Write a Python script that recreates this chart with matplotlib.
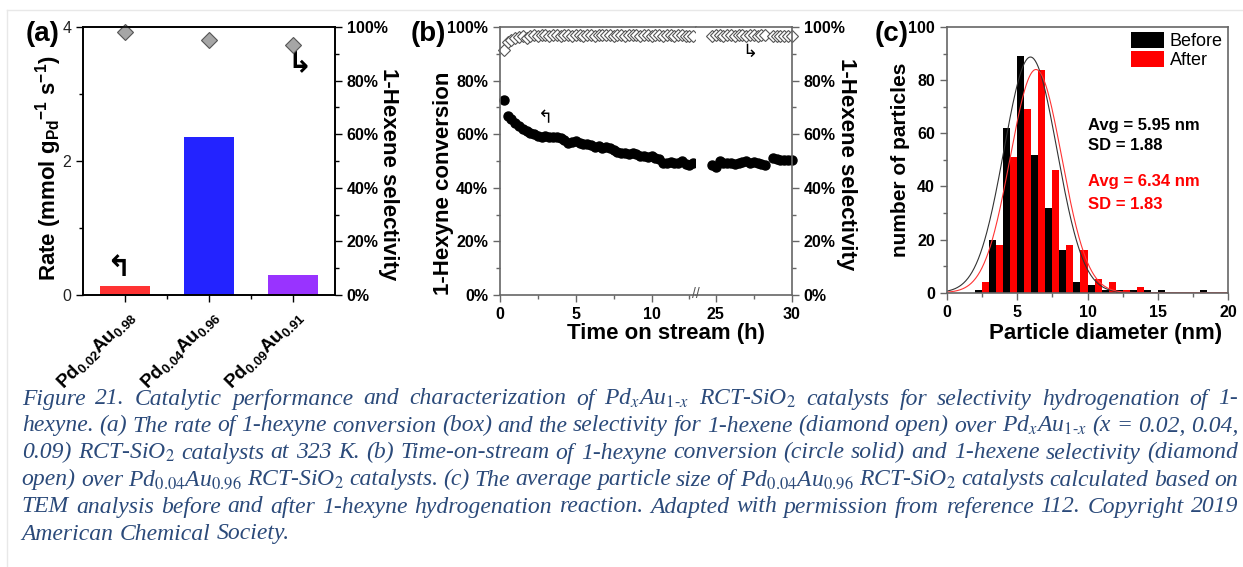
import matplotlib
matplotlib.use('Agg')
import matplotlib.pyplot as plt
import numpy as np
from matplotlib.ticker import MultipleLocator, FixedLocator, PercentFormatter
from matplotlib.lines import Line2D

plt.rcParams['font.family'] = ['Liberation Sans', 'DejaVu Sans']
plt.rcParams['mathtext.fontset'] = 'custom'
plt.rcParams['mathtext.rm'] = 'Liberation Sans'
plt.rcParams['mathtext.it'] = 'Liberation Sans:italic'
plt.rcParams['mathtext.bf'] = 'Liberation Sans:bold'

# ---- (a) rate and selectivity per catalyst
catalysts = [r'Pd$_{\mathregular{0.02}}$Au$_{\mathregular{0.98}}$',
             r'Pd$_{\mathregular{0.04}}$Au$_{\mathregular{0.96}}$',
             r'Pd$_{\mathregular{0.09}}$Au$_{\mathregular{0.91}}$']
rate = [0.13, 2.36, 0.30]
rate_colors = ['#FF3333', '#2323FF', '#9933FF']
sel_a = [98.0, 95.0, 93.4]

# ---- (b) time on stream, three blocks of samples
t1 = np.arange(0.25, 12.76, 0.25)
conv1 = [72.7, 66.7, 65.8, 64.0, 63.0, 62.1, 61.1, 60.5, 59.9, 59.4,
         58.8, 59.3, 59.0, 58.8, 58.8, 58.6, 57.8, 56.8, 57.1, 57.5,
         56.8, 56.5, 56.3, 55.9, 55.3, 55.5, 55.0, 55.3, 54.7, 54.0,
         53.4, 53.0, 52.8, 52.5, 53.0, 52.5, 52.0, 51.8, 51.6, 51.8,
         51.3, 50.6, 49.3, 49.1, 49.6, 49.3, 49.1, 50.1, 48.8, 48.4, 49.2]
sel1 = [91.5, 94.3, 95.3, 95.9, 96.3, 96.6, 95.8, 96.7, 96.9, 96.8,
        96.9, 96.9, 96.8, 96.9, 96.9, 96.8, 96.9, 96.9, 96.8, 96.9,
        96.9, 96.8, 96.9, 96.9, 96.8, 96.9, 96.9, 97.0, 96.9, 96.8,
        96.9, 96.9, 96.8, 96.9, 97.0, 96.9, 96.8, 96.9, 96.9, 96.8,
        96.9, 96.9, 96.8, 96.9, 96.9, 96.8, 96.9, 96.9, 96.8, 96.7, 96.5]
t2 = np.arange(24.75, 28.26, 0.25)
conv2 = [48.4, 47.9, 50.1, 49.1, 49.1, 49.3, 49.0, 49.3, 49.6, 49.9,
         49.3, 49.6, 49.3, 48.8, 48.5]
sel2 = [96.8, 96.9, 96.9, 96.8, 96.9, 96.9, 96.8, 96.9, 96.9, 96.8,
        96.9, 96.9, 96.8, 96.9, 96.9]
t3 = np.arange(28.75, 30.01, 0.25)
conv3 = [51.0, 50.7, 50.3, 50.5, 50.5, 50.4]
sel3 = [96.7, 96.6, 96.7, 96.6, 96.7, 96.6]

# ---- (c) particle size histograms
bin_left = np.arange(2, 19)
before_counts = [1, 20, 62, 89, 52, 32, 16, 4, 3, 1, 1, 1, 1, 1, 0, 0, 1]
after_counts = [4, 18, 51, 69, 84, 46, 18, 16, 5, 4, 1, 2, 0, 0, 0, 0, 0]
fit_before = (5.95, 1.88, 88.7)   # mean, sd, peak
fit_after = (6.34, 1.83, 84.0)

caption_lines = [
    r"Figure 21. Catalytic performance and characterization of Pd$_{\mathit{x}}$Au$_{\mathit{1}\text{-}\mathit{x}}$ RCT-SiO$_{\mathrm{2}}$ catalysts for selectivity hydrogenation of 1-",
    r"hexyne. (a) The rate of 1-hexyne conversion (box) and the selectivity for 1-hexene (diamond open) over Pd$_{\mathit{x}}$Au$_{\mathit{1}\text{-}\mathit{x}}$ (x = 0.02, 0.04,",
    r"0.09) RCT-SiO$_{\mathrm{2}}$ catalysts at 323 K. (b) Time-on-stream of 1-hexyne conversion (circle solid) and 1-hexene selectivity (diamond",
    r"open) over Pd$_{\mathit{0.04}}$Au$_{\mathit{0.96}}$ RCT-SiO$_{\mathrm{2}}$ catalysts. (c) The average particle size of Pd$_{\mathit{0.04}}$Au$_{\mathit{0.96}}$ RCT-SiO$_{\mathrm{2}}$ catalysts calculated based on",
    r"TEM analysis before and after 1-hexyne hydrogenation reaction. Adapted with permission from reference 112. Copyright 2019",
    r"American Chemical Society.",
]

W, H = 1243, 567
fig = plt.figure(figsize=(W / 100, H / 100), dpi=100)


def box(l, t, r, b):
    return [l / W, 1 - b / H, (r - l) / W, (b - t) / H]


def ftext(x, y, s, **kw):
    return fig.text(x / W, 1 - y / H, s, **kw)


def style_ticks(ax, color):
    ax.tick_params(which='both', direction='out', color=color, width=1)
    ax.tick_params(which='major', length=5)
    ax.tick_params(which='minor', length=3)
    for sp in ax.spines.values():
        sp.set_color(color)
        sp.set_linewidth(1.2)


# ================= panel (a)
axa = fig.add_axes(box(83, 27, 335, 295))
xpos = np.arange(1, len(rate) + 1)
axa.bar(xpos, rate, width=0.6, color=rate_colors)
axa.set_xlim(0.5, 3.5)
axa.set_ylim(0, 4)
axa.set_yticks([0, 2, 4])
axa.yaxis.set_minor_locator(MultipleLocator(1))
axa.set_xticks(xpos)
axa.xaxis.set_minor_locator(FixedLocator([1.5, 2.5]))
axa.set_xticklabels(catalysts, fontsize=13.5, fontweight='bold')
for lab in axa.get_xticklabels():
    lab.set_rotation(45)
    lab.set_ha('right')
    lab.set_va('top')
    lab.set_rotation_mode('anchor')
for lab in axa.get_yticklabels():
    lab.set_fontsize(11.5)
    lab.set_color('#222222')
style_ticks(axa, 'black')

axa_r = axa.twinx()
axa_r.plot(xpos, sel_a, 'D', ms=8, mfc='#A6A6A6', mec='#555555', mew=0.8, clip_on=False)
axa_r.set_ylim(0, 100)
axa_r.yaxis.set_major_locator(MultipleLocator(20))
axa_r.yaxis.set_minor_locator(MultipleLocator(10))
axa_r.yaxis.set_major_formatter(PercentFormatter(decimals=0))
for lab in axa_r.get_yticklabels():
    lab.set_fontsize(11.5)
    lab.set_fontweight('bold')
style_ticks(axa_r, 'black')
axa.text(0.92, 0.40, '\u21b0', fontsize=21, fontweight='bold', family='DejaVu Sans',
         ha='center', va='center')
axa.text(3.08, 3.46, '\u21b3', fontsize=21, fontweight='bold', family='DejaVu Sans',
         ha='center', va='center')

ftext(49, 168, r'Rate (mmol g$_{\mathregular{Pd}}$$^{\mathregular{-1}}$ s$^{\mathregular{-1}}$)',
      rotation=90, ha='center', va='center', fontsize=16, fontweight='bold')
ftext(388, 174, '1-Hexene selectivity', rotation=270, ha='center', va='center',
      fontsize=16, fontweight='bold')
ftext(43, 34, '(a)', ha='center', va='center', fontsize=20, fontweight='bold')

# ================= panel (b), broken time axis
axb1 = fig.add_axes(box(500, 27, 696, 295))
axb2 = fig.add_axes(box(696, 27, 791.7, 295))
mk_sel = dict(ls='none', marker='D', ms=6.5, mfc='white', mec='#555555', mew=0.8, clip_on=False)
mk_conv = dict(ls='none', marker='o', ms=6.5, color='black', clip_on=False)
axb1.plot(t1, sel1, **mk_sel)
axb1.plot(t1, conv1, **mk_conv)
axb2.plot(t2, sel2, **mk_sel)
axb2.plot(t3, sel3, **mk_sel)
axb2.plot(t2, conv2, **mk_conv)
axb2.plot(t3, conv3, **mk_conv)
axb1.set_xlim(0, 12.93)
axb2.set_xlim(23.7, 30)
for ax in (axb1, axb2):
    ax.set_ylim(0, 100)
    ax.yaxis.set_major_locator(MultipleLocator(20))
    ax.yaxis.set_minor_locator(MultipleLocator(10))
    ax.yaxis.set_major_formatter(PercentFormatter(decimals=0))
    style_ticks(ax, '#666666')
    ax.tick_params(labelsize=11.5)
axb1.set_xticks([0, 5, 10])
axb1.xaxis.set_minor_locator(FixedLocator([2.5, 7.5, 12.5]))
axb2.set_xticks([25, 30])
axb2.xaxis.set_minor_locator(FixedLocator([27.5]))
axb1.spines['right'].set_visible(False)
axb2.spines['left'].set_visible(False)
axb2.yaxis.tick_right()
for ax in (axb1, axb2):
    for lab in ax.get_xticklabels() + ax.get_yticklabels():
        lab.set_fontweight('bold')
        lab.set_color('black')
ftext(696, 294, '//', ha='center', va='center', fontsize=10, color='#555555')
axb1.text(3.0, 66, '\u21b0', fontsize=13, family='DejaVu Sans', ha='center', va='center')
axb2.text(27.25, 90.6, '\u21b3', fontsize=13, family='DejaVu Sans', ha='center', va='center')

ftext(444, 183, '1-Hexyne conversion', rotation=90, ha='center', va='center',
      fontsize=16, fontweight='bold')
ftext(847, 164, '1-Hexene selectivity', rotation=270, ha='center', va='center',
      fontsize=16, fontweight='bold')
ftext(666, 333, 'Time on stream (h)', ha='center', va='center', fontsize=16, fontweight='bold')
ftext(428, 34, '(b)', ha='center', va='center', fontsize=20, fontweight='bold')

# ================= panel (c)
axc = fig.add_axes(box(946.7, 27, 1228.3, 292.7))
axc.bar(bin_left, before_counts, width=0.5, align='edge', color='black', label='Before')
axc.bar(bin_left + 0.5, after_counts, width=0.5, align='edge', color='#FF0000', label='After')
xs = np.linspace(0, 20, 401)
for (m, s, pk), col in ((fit_before, '#333333'), (fit_after, '#FF3333')):
    axc.plot(xs, pk * np.exp(-(xs - m) ** 2 / (2 * s ** 2)), color=col, lw=0.8)
axc.set_xlim(0, 20)
axc.set_ylim(0, 100)
axc.xaxis.set_major_locator(MultipleLocator(5))
axc.xaxis.set_minor_locator(MultipleLocator(2.5))
axc.yaxis.set_major_locator(MultipleLocator(20))
axc.yaxis.set_minor_locator(MultipleLocator(10))
style_ticks(axc, '#666666')
axc.tick_params(labelsize=11.5)
for lab in axc.get_xticklabels() + axc.get_yticklabels():
    lab.set_fontweight('bold')
    lab.set_color('black')
axc.legend(loc='upper right', frameon=False, fontsize=13, handlelength=1.8,
           handleheight=0.95, labelspacing=0.05, borderaxespad=0.1, borderpad=0.2,
           handletextpad=0.35)
axc.text(10.0, 62.8, 'Avg = %.2f nm' % fit_before[0], fontsize=12, fontweight='bold', va='center')
axc.text(10.0, 55.3, 'SD = %.2f' % fit_before[1], fontsize=12, fontweight='bold', va='center')
axc.text(10.0, 41.7, 'Avg = %.2f nm' % fit_after[0], fontsize=12, fontweight='bold',
         va='center', color='#FF0000')
axc.text(10.0, 33.3, 'SD = %.2f' % fit_after[1], fontsize=12, fontweight='bold',
         va='center', color='#FF0000')
ftext(900, 160, 'number of particles', rotation=90, ha='center', va='center',
      fontsize=15, fontweight='bold')
ftext(1106, 334, 'Particle diameter (nm)', ha='center', va='center', fontsize=16,
      fontweight='bold')
ftext(892, 34, '(c)', ha='center', va='center', fontsize=20, fontweight='bold')

# ================= faint frame
fig.add_artist(Line2D([7 / W, 1], [1 - 10 / H, 1 - 10 / H], color='#E8E8E8', lw=1))
fig.add_artist(Line2D([7 / W, 7 / W], [0, 1 - 10 / H], color='#E8E8E8', lw=1))

# ================= justified caption
cap_color = '#2B4A7A'
cap_x0, cap_x1 = 21.7, 1238.0
baselines = [404.5, 431.5, 458.5, 485.5, 512.5, 539.5]
renderer = fig.canvas.get_renderer()
cap_size = 17
rows = []
for line, yb in zip(caption_lines, baselines):
    words = line.split(' ')
    texts = [ftext(0, yb, w, fontsize=cap_size, family='Liberation Serif', style='italic',
                   color=cap_color, va='baseline', ha='left', math_fontfamily='stix')
             for w in words]
    rows.append(texts)


def measure():
    return [[t.get_window_extent(renderer).width for t in row] for row in rows]


widths = measure()
avail = cap_x1 - cap_x0
space_px = 0.25 * cap_size * 100 / 72
need = min(avail / (sum(w) + (len(w) - 1) * space_px * 0.8) for w in widths[:-1])
if need < 1:
    cap_size *= need
    for row in rows:
        for t in row:
            t.set_fontsize(cap_size)
    widths = measure()
    space_px = 0.25 * cap_size * 100 / 72
for i, (row, w) in enumerate(zip(rows, widths)):
    if i < len(rows) - 1:
        gap = (avail - sum(w)) / (len(w) - 1)
    else:
        gap = space_px
    x = cap_x0
    for t, wi in zip(row, w):
        t.set_x(x / W)
        x += wi + gap

fig.savefig('out.png', dpi=100)
